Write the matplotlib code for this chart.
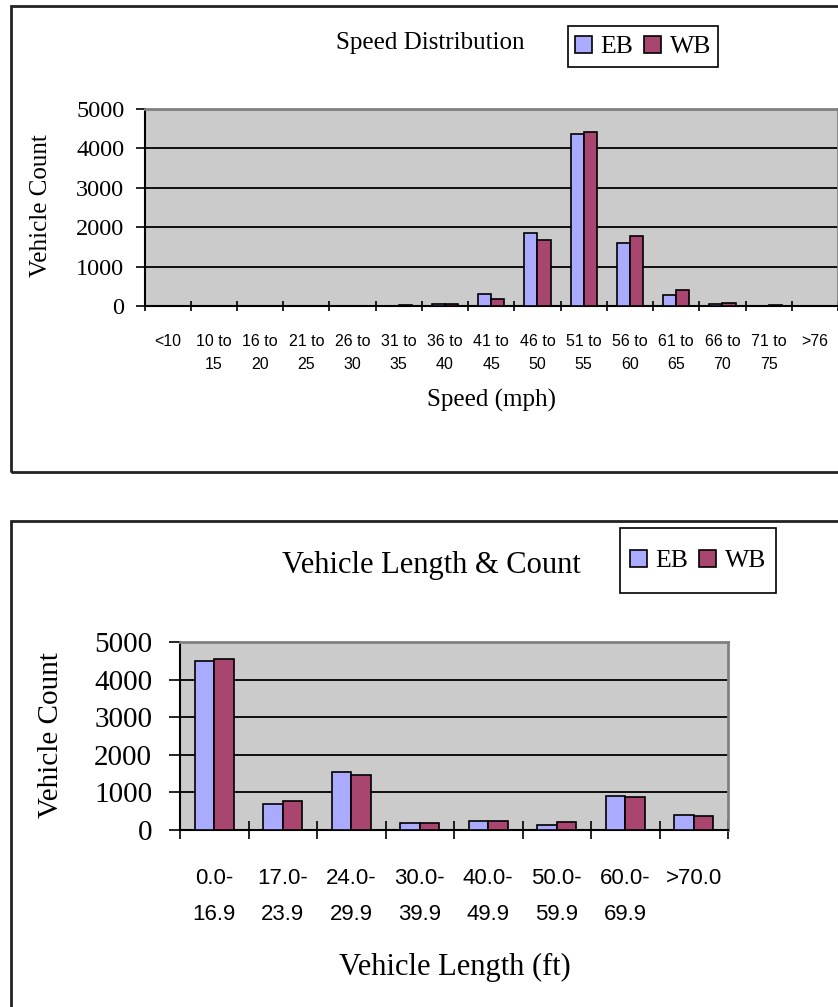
import matplotlib.pyplot as plt
import matplotlib.patches as patches
import numpy as np

# speed bins (mph) and counts per direction
speed_bins = ["<10", "10 to\n15", "16 to\n20", "21 to\n25", "26 to\n30", "31 to\n35",
              "36 to\n40", "41 to\n45", "46 to\n50", "51 to\n55", "56 to\n60",
              "61 to\n65", "66 to\n70", "71 to\n75", ">76"]
speed_eb = [0, 0, 0, 0, 0, 5, 60, 305, 1850, 4365, 1610, 290, 40, 5, 0]
speed_wb = [0, 0, 0, 0, 0, 15, 40, 170, 1680, 4410, 1765, 415, 85, 17, 0]

# vehicle length bins (ft) and counts per direction
length_bins = ["0.0-\n16.9", "17.0-\n23.9", "24.0-\n29.9", "30.0-\n39.9",
               "40.0-\n49.9", "50.0-\n59.9", "60.0-\n69.9", ">70.0"]
length_eb = [4490, 690, 1545, 185, 250, 140, 900, 400]
length_wb = [4560, 760, 1470, 185, 250, 210, 865, 360]

EB_COLOR = "#AAAAFF"
WB_COLOR = "#A8466F"
PLOT_BG = "#CBCBCB"
SERIF = "Liberation Serif"
SANS = "Liberation Sans"

W, H = 838, 1007
fig = plt.figure(figsize=(W / 100, H / 100), dpi=100)
fig.patch.set_facecolor("white")


def fx(px):
    return px / W


def fy(py):
    return 1 - py / H


def box(x0, y0, x1, y1, lw=2.0, color="#222222"):
    fig.patches.append(patches.Rectangle((fx(x0), fy(y1)), (x1 - x0) / W, (y1 - y0) / H,
                                         transform=fig.transFigure, fill=False,
                                         edgecolor=color, linewidth=lw, zorder=5))


def bar_chart(rect, cats, eb, wb, ytick_size, xtick_size, xtick_pad, ytick_pad,
              ytick_len, xtick_len, spacing):
    ax = fig.add_axes(rect)
    ax.set_facecolor(PLOT_BG)
    x = np.arange(len(cats))
    w = 1 / 3.5
    b1 = ax.bar(x - w / 2, eb, w, color=EB_COLOR, edgecolor="black", linewidth=1.2,
                label="EB", zorder=3)
    b2 = ax.bar(x + w / 2, wb, w, color=WB_COLOR, edgecolor="black", linewidth=1.2,
                label="WB", zorder=3)
    ax.set_xlim(-0.5, len(cats) - 0.5)
    ax.set_ylim(0, 5000)
    ax.set_yticks(np.arange(0, 5001, 1000))
    ax.set_yticklabels([str(v) for v in range(0, 5001, 1000)], fontsize=ytick_size,
                       family=SERIF)
    ax.yaxis.grid(True, color="black", linewidth=1.3, zorder=1)
    ax.set_axisbelow(True)
    ax.tick_params(axis="y", direction="out", length=ytick_len, width=1.2,
                   pad=ytick_pad, colors="black")
    ax.set_xticks(x)
    ax.set_xticklabels(cats, fontsize=xtick_size, family=SANS, linespacing=spacing,
                       va="top")
    ax.tick_params(axis="x", which="major", length=0, pad=xtick_pad)
    # boundary marks between categories
    ax.set_xticks(np.arange(len(cats) + 1) - 0.5, minor=True)
    ax.tick_params(axis="x", which="minor", direction="inout", length=xtick_len,
                   width=1.2, color="black")
    for s in ("left", "bottom"):
        ax.spines[s].set_color("black")
        ax.spines[s].set_linewidth(1.5)
    for s in ("top", "right"):
        ax.spines[s].set_color("#808080")
        ax.spines[s].set_linewidth(2)
    return ax, b1, b2


def legend(ax, handles, cx, cy):
    leg = ax.legend(handles, ["EB", "WB"], loc="center", ncol=2,
                    bbox_to_anchor=(fx(cx), fy(cy)), bbox_transform=fig.transFigure,
                    frameon=False, prop={"family": SERIF, "size": 18.5},
                    handlelength=0.65, handleheight=0.65, handletextpad=0.35,
                    columnspacing=0.4, borderpad=0)
    return leg


# ---- speed distribution ----
box(10.5, 6, 845, 471.5)
ax1, e1, w1 = bar_chart([fx(144.5), fy(306), (838 - 144.5) / W, (306 - 109) / H],
                        speed_bins, speed_eb, speed_wb, ytick_size=17.5, xtick_size=11.5,
                        xtick_pad=20, ytick_pad=8, ytick_len=6.5, xtick_len=7,
                        spacing=1.72)
fig.text(fx(430), fy(43), "Speed Distribution", family=SERIF, fontsize=18,
         ha="center", va="center")
fig.text(fx(491), fy(400), "Speed (mph)", family=SERIF, fontsize=18,
         ha="center", va="center")
fig.text(fx(41), fy(206), "Vehicle Count", family=SERIF, fontsize=18,
         ha="center", va="center", rotation=90)
box(568, 26.5, 718, 67, lw=1.2, color="black")
legend(ax1, [e1, w1], 643, 47)

# ---- vehicle length ----
box(10.5, 521, 845, 1015)
ax2, e2, w2 = bar_chart([fx(180), fy(830), (728 - 180) / W, (830 - 642) / H],
                        length_bins, length_eb, length_wb, ytick_size=21, xtick_size=16,
                        xtick_pad=27.5, ytick_pad=12, ytick_len=8, xtick_len=13,
                        spacing=1.95)
fig.text(fx(431), fy(566), "Vehicle Length & Count", family=SERIF, fontsize=22,
         ha="center", va="center")
fig.text(fx(455), fy(967), "Vehicle Length (ft)", family=SERIF, fontsize=22,
         ha="center", va="center")
fig.text(fx(51), fy(735), "Vehicle Count", family=SERIF, fontsize=21,
         ha="center", va="center", rotation=90)
box(620, 528, 776, 593, lw=1.2, color="black")
legend(ax2, [e2, w2], 698, 561)

fig.savefig("out.png", dpi=100)
